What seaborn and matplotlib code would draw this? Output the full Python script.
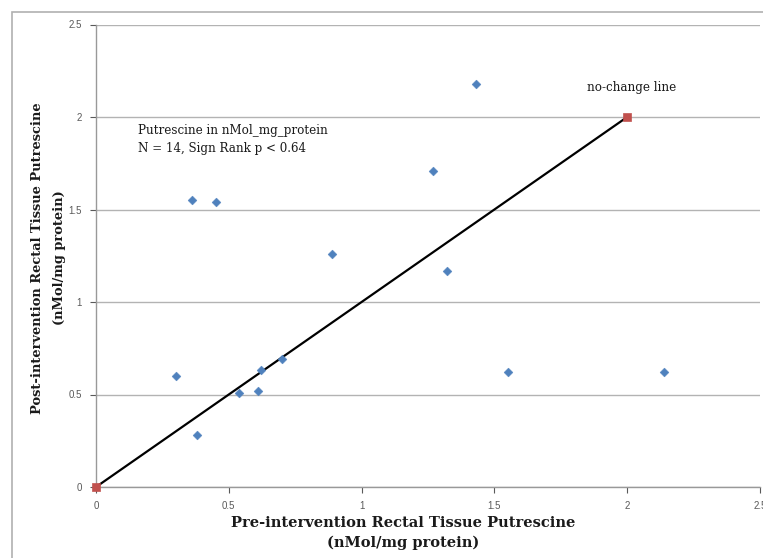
import pandas as pd
import matplotlib
matplotlib.use("Agg")
import matplotlib.pyplot as plt
import seaborn as sns
from matplotlib.patches import Rectangle

# Data
pre_values = [1.43, 1.27, 0.36, 0.45, 0.89, 1.32, 1.55, 2.14, 0.30, 0.38, 0.54, 0.61, 0.62, 0.70]
post_values = [2.18, 1.71, 1.55, 1.54, 1.26, 1.17, 0.62, 0.62, 0.60, 0.28, 0.51, 0.52, 0.63, 0.69]
line_x = [0, 2]
line_y = [0, 2]
tick_values = [0, 0.5, 1, 1.5, 2, 2.5]
tick_labels = ["0", "0.5", "1", "1.5", "2", "2.5"]

sns.set_style("white")
plt.rcParams['font.family'] = ['DejaVu Serif']

points = pd.DataFrame({"pre": pre_values, "post": post_values})
nochange = pd.DataFrame({"x": line_x, "y": line_y})

W, H = 763, 558
fig = plt.figure(figsize=(W / 100, H / 100), dpi=100)
ax = fig.add_axes([96 / W, 1 - 487 / H, 664 / W, 462.5 / H])

# outer chart frame (only top and left visible in the reference)
fig.patches.append(Rectangle((12 / W, -0.5), 2.0, 0.5 + (1 - 12 / H),
                             transform=fig.transFigure, fill=False,
                             edgecolor="#b0b0b0", linewidth=1.2))

sns.lineplot(data=nochange, x="x", y="y", ax=ax, color="black", linewidth=1.6,
             zorder=3, clip_on=False)
sns.scatterplot(data=nochange, x="x", y="y", ax=ax, marker="s", s=36,
                color="#C0504D", edgecolor="#C0504D", zorder=4, clip_on=False)
sns.scatterplot(data=points, x="pre", y="post", ax=ax, marker="D", s=20,
                color="#4F81BD", edgecolor="#4F81BD", zorder=5, clip_on=False)

ax.set_xlim(0, 2.5)
ax.set_ylim(0, 2.5)
ax.set_xticks(tick_values)
ax.set_xticklabels(tick_labels)
ax.set_yticks(tick_values)
ax.set_yticklabels(tick_labels)
for lab in ax.get_xticklabels() + ax.get_yticklabels():
    lab.set_family(['Liberation Sans'])
ax.tick_params(axis="both", labelsize=7, colors="#595959", length=4, width=0.8,
               direction="out", bottom=True, left=True)
ax.tick_params(axis="x", pad=6)
ax.tick_params(axis="y", pad=6)

ax.grid(axis="y", color="#b3b3b3", linewidth=1.0)
ax.grid(axis="x", visible=False)
sns.despine(ax=ax, top=True, right=True)
for side in ["left", "bottom"]:
    ax.spines[side].set_color("#999999")
    ax.spines[side].set_linewidth(1.0)

ax.set_xlabel("")
ax.set_ylabel("")
ylab_y = 1 - 258 / H
fig.text(38 / W, ylab_y, "Post-intervention Rectal Tissue Putrescine", rotation=90,
         ha="center", va="center", fontsize=9.4, fontweight="bold", color="#1a1a1a")
fig.text(59 / W, ylab_y, "(nMol/mg protein)", rotation=90,
         ha="center", va="center", fontsize=9.4, fontweight="bold", color="#1a1a1a")
fig.text(403 / W, 1 - 523 / H, "Pre-intervention Rectal Tissue Putrescine",
         ha="center", va="center", fontsize=10.5, fontweight="bold", color="#1a1a1a")
fig.text(403 / W, 1 - 543 / H, "(nMol/mg protein)",
         ha="center", va="center", fontsize=10.5, fontweight="bold", color="#1a1a1a")

ax.text(0.158, 1.88, "Putrescine in nMol_mg_protein\nN = 14, Sign Rank p < 0.64",
        fontsize=8.6, va="center", ha="left", linespacing=1.5, color="#1a1a1a")
ax.text(1.85, 2.16, "no-change line", fontsize=8.6, va="center", ha="left",
        color="#1a1a1a")

fig.savefig("out.png", dpi=100)
